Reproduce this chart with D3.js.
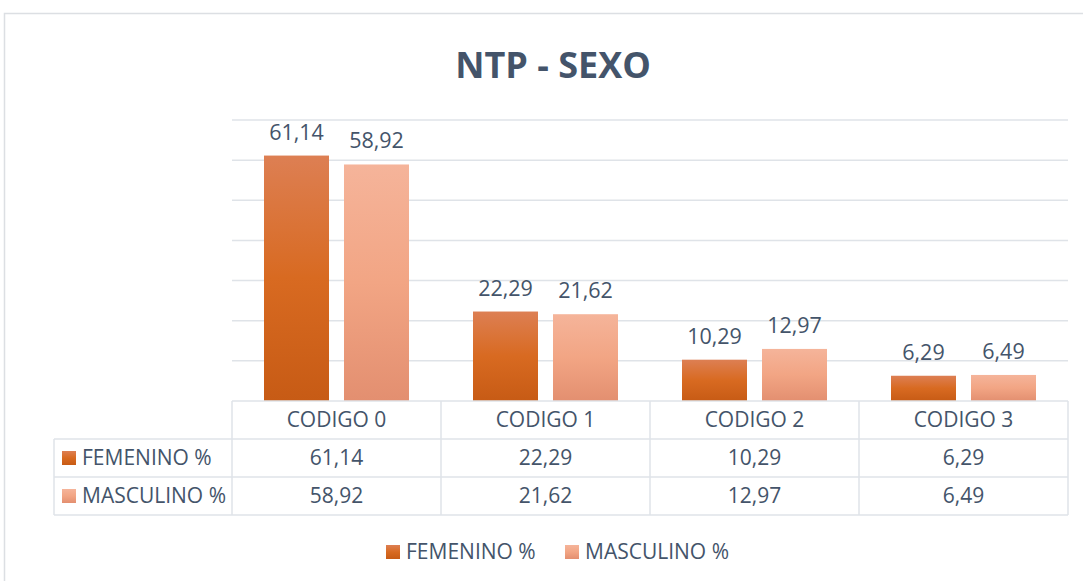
<!DOCTYPE html>
<html>
<head>
<meta charset="utf-8">
<script src="https://cdn.jsdelivr.net/npm/d3@7"></script>
<style>
  body { margin: 0; background: #fff; }
  text { font-family: "Open Sans", "Noto Sans", sans-serif; fill: #44546a; }
</style>
</head>
<body>
<div id="chart"></div>
<script>
  var width = 1083;
  var height = 581;

  // chart data
  var categories = ["CODIGO 0", "CODIGO 1", "CODIGO 2", "CODIGO 3"];
  var seriesNames = ["FEMENINO %", "MASCULINO %"];
  var femenino = [61.14, 22.29, 10.29, 6.29];
  var masculino = [58.92, 21.62, 12.97, 6.49];
  var yTicks = [10, 20, 30, 40, 50, 60, 70];

  var seriesValues = [femenino, masculino];
  var fmt = function(v) { return d3.format(".2f")(v).replace(".", ","); };

  var svg = d3.select("#chart").append("svg")
    .attr("width", width)
    .attr("height", height);

  // gradients like the office fill
  var defs = svg.append("defs");
  var gradStops = [
    [["0%", "#dd7f53"], ["50%", "#d86a21"], ["100%", "#c75b15"]],
    [["0%", "#f5b49a"], ["50%", "#f2a584"], ["100%", "#e38f70"]]
  ];
  gradStops.forEach(function(stops, i) {
    var g = defs.append("linearGradient")
      .attr("id", "grad" + i)
      .attr("x1", 0).attr("y1", 0).attr("x2", 0).attr("y2", 1);
    stops.forEach(function(s) {
      g.append("stop").attr("offset", s[0]).attr("stop-color", s[1]);
    });
  });

  // outer frame
  svg.append("rect")
    .attr("x", 4.5).attr("y", 13.5)
    .attr("width", 1100).attr("height", 600)
    .attr("fill", "none")
    .attr("stroke", "#dcdfe3")
    .attr("stroke-width", 1.5);

  // title
  svg.append("text")
    .attr("x", 553).attr("y", 78)
    .attr("text-anchor", "middle")
    .style("font-size", "36px")
    .style("font-weight", "bold")
    .text("NTP - SEXO");

  var plotLeft = 232, plotRight = 1068;
  var x = d3.scaleBand().domain(categories).range([plotLeft, plotRight]);
  var xSub = d3.scaleBand().domain(d3.range(seriesNames.length))
    .range([32, x.bandwidth() - 32]).paddingInner(0.1875);
  var y = d3.scaleLinear().domain([0, 70]).range([401, 120]);

  // gridlines
  svg.append("g").selectAll("line")
    .data(yTicks)
    .enter().append("line")
    .attr("x1", plotLeft).attr("x2", plotRight)
    .attr("y1", function(d) { return y(d); })
    .attr("y2", function(d) { return y(d); })
    .attr("stroke", "#dfe3e8")
    .attr("stroke-width", 1.5);

  // bars
  var groups = svg.append("g").selectAll("g")
    .data(categories)
    .enter().append("g")
    .attr("transform", function(d) { return "translate(" + x(d) + ",0)"; });

  groups.selectAll("rect")
    .data(function(d, i) { return seriesValues.map(function(s, j) { return { s: j, v: s[i] }; }); })
    .enter().append("rect")
    .attr("x", function(d) { return xSub(d.s); })
    .attr("width", xSub.bandwidth())
    .attr("y", function(d) { return y(d.v); })
    .attr("height", function(d) { return y(0) - y(d.v); })
    .attr("fill", function(d) { return "url(#grad" + d.s + ")"; });

  groups.selectAll("text")
    .data(function(d, i) { return seriesValues.map(function(s, j) { return { s: j, v: s[i] }; }); })
    .enter().append("text")
    .attr("x", function(d) { return xSub(d.s) + xSub.bandwidth() / 2; })
    .attr("y", function(d) { return y(d.v) - 16; })
    .attr("text-anchor", "middle")
    .style("font-size", "21.5px")
    .text(function(d) { return fmt(d.v); });

  // data table
  var tableLeft = 54;
  var rowY = [401, 439, 477, 515];
  var grid = svg.append("g").attr("stroke", "#dfe3e8").attr("stroke-width", 1.5);
  grid.append("line").attr("x1", plotLeft).attr("x2", plotRight).attr("y1", rowY[0]).attr("y2", rowY[0]);
  [rowY[1], rowY[2], rowY[3]].forEach(function(yy) {
    grid.append("line").attr("x1", tableLeft).attr("x2", plotRight).attr("y1", yy).attr("y2", yy);
  });
  grid.append("line").attr("x1", tableLeft).attr("x2", tableLeft).attr("y1", rowY[1]).attr("y2", rowY[3]);
  categories.concat(["end"]).forEach(function(c) {
    var xx = c === "end" ? plotRight : x(c);
    grid.append("line").attr("x1", xx).attr("x2", xx).attr("y1", rowY[0]).attr("y2", rowY[3]);
  });

  // header
  svg.append("g").selectAll("text")
    .data(categories)
    .enter().append("text")
    .attr("x", function(d) { return x(d) + x.bandwidth() / 2; })
    .attr("y", (rowY[0] + rowY[1]) / 2 + 7)
    .attr("text-anchor", "middle")
    .style("font-size", "21px")
    .text(function(d) { return d; });

  // rows
  seriesNames.forEach(function(name, j) {
    var cy = (rowY[j + 1] + rowY[j + 2]) / 2;
    svg.append("rect")
      .attr("x", 62).attr("y", cy - 7)
      .attr("width", 14).attr("height", 14)
      .attr("fill", "url(#grad" + j + ")");
    svg.append("text")
      .attr("x", 82).attr("y", cy + 7)
      .style("font-size", "21px")
      .text(name);
    svg.append("g").selectAll("text")
      .data(seriesValues[j])
      .enter().append("text")
      .attr("x", function(d, i) { return x(categories[i]) + x.bandwidth() / 2; })
      .attr("y", cy + 7)
      .attr("text-anchor", "middle")
      .style("font-size", "21px")
      .text(function(d) { return fmt(d); });
  });

  // legend
  var legendX = [386, 565];
  seriesNames.forEach(function(name, j) {
    svg.append("rect")
      .attr("x", legendX[j]).attr("y", 545)
      .attr("width", 14).attr("height", 14)
      .attr("fill", "url(#grad" + j + ")");
    svg.append("text")
      .attr("x", legendX[j] + 20).attr("y", 559)
      .style("font-size", "21px")
      .text(name);
  });
</script>
</body>
</html>
